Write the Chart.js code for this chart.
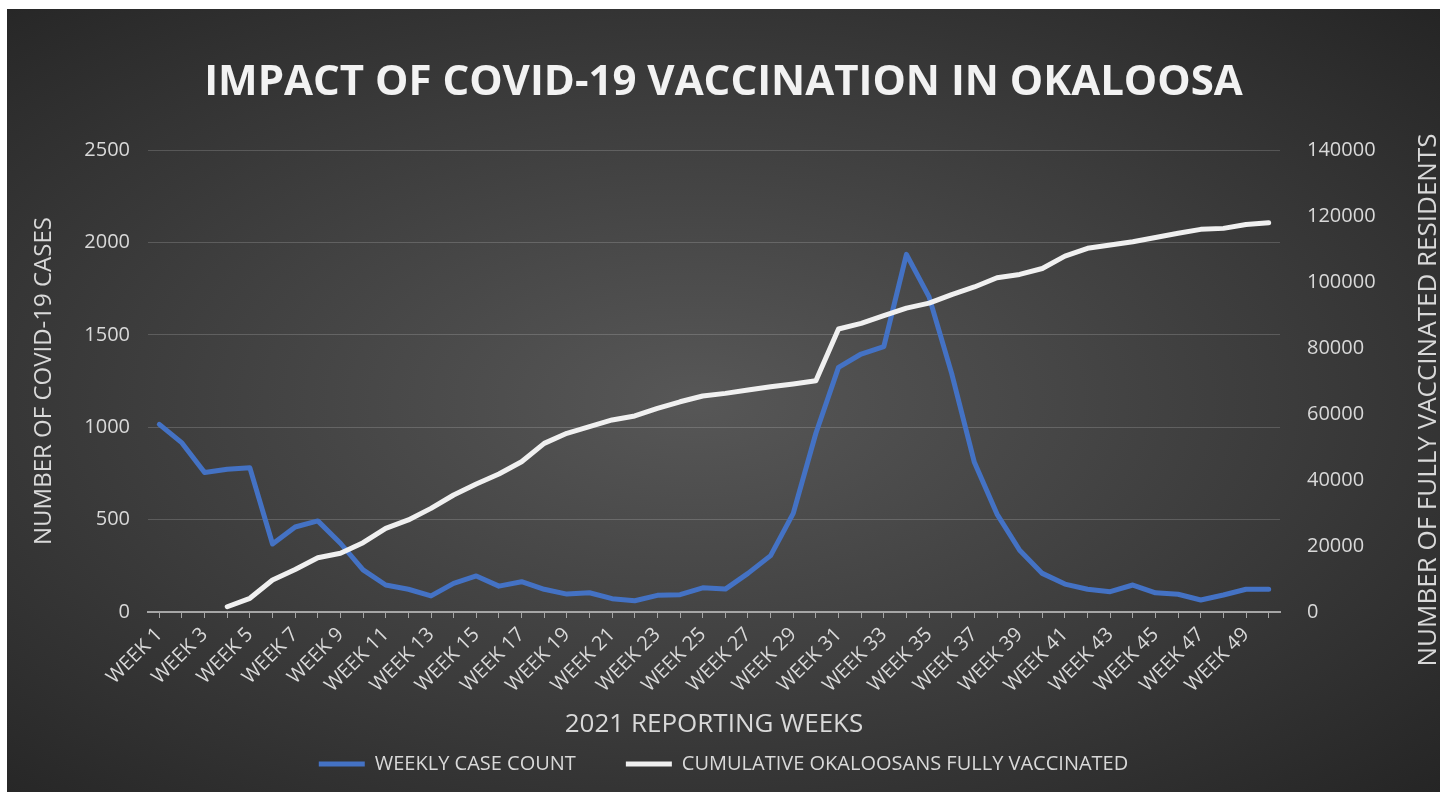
<!DOCTYPE html>
<html>
<head>
<meta charset="utf-8">
<script src="https://cdn.jsdelivr.net/npm/chart.js@4/dist/chart.umd.min.js"></script>
<style>
  html, body { margin: 0; padding: 0; background: #ffffff; }
  #wrap {
    position: absolute; left: 7px; top: 9px; width: 1433px; height: 783px;
    background: radial-gradient(ellipse farthest-corner at 48% 50%, #575757 0%, #3c3c3c 55%, #252525 100%);
  }
</style>
</head>
<body>
<div id="wrap"><canvas id="covid-chart"></canvas></div>
<script>
var weeks = [];
for (var w = 1; w <= 50; w++) { weeks.push("WEEK " + w); }

var weeklyCases = [
    1015, 915, 755, 772, 780, 368, 460, 493, 372, 228,
    146, 123, 87, 155, 195, 140, 164, 123, 97, 104,
    72, 61, 90, 94, 131, 124, 209, 305, 534, 967,
    1324, 1396, 1436, 1935, 1705, 1290, 810, 530, 334, 209,
    151, 123, 110, 146, 104, 96, 65, 92, 123, 123
];

var fullyVaccinated = [
    null, null, null, 1600, 4150, 9700, 12900, 16450, 17800, 21000,
    25350, 27900, 31400, 35450, 38800, 41800, 45550, 51100, 54150, 56150,
    58200, 59400, 61700, 63700, 65450, 66250, 67250, 68250, 69100, 70100,
    85750, 87450, 89800, 92100, 93600, 96200, 98500, 101300, 102300, 104100,
    107850, 110200, 111200, 112200, 113500, 114750, 115950, 116250, 117450, 117950
];

var caseTicks = [0, 500, 1000, 1500, 2000, 2500];
var vaxTicks = [0, 20000, 40000, 60000, 80000, 100000, 120000, 140000];

var labelColor = "#d9d9d9";
var fontName = "'Open Sans', 'Noto Sans', sans-serif";
var rightTitleText = "NUMBER OF FULLY VACCINATED RESIDENTS";

// right axis title reads bottom-to-top like the left one
var rightTitle = {
    id: "rightTitle",
    afterDraw: function(chart) {
        var c = chart.ctx;
        c.save();
        c.translate(chart.width - 11, 391);
        c.rotate(-Math.PI / 2);
        c.font = "26px " + fontName;
        c.fillStyle = labelColor;
        c.textAlign = "center";
        c.textBaseline = "middle";
        c.fillText(rightTitleText, 0, 0);
        c.restore();
    }
};

var ctx = document.getElementById("covid-chart").getContext("2d");

var chart = new Chart(ctx, {
    type: "line",
    data: {
        labels: weeks,
        datasets: [
            {
                label: "WEEKLY CASE COUNT",
                data: weeklyCases,
                yAxisID: "yCases",
                borderColor: "#4472c4",
                backgroundColor: "#4472c4",
                borderWidth: 5,
                pointRadius: 0,
                tension: 0,
                borderJoinStyle: "round",
                borderCapStyle: "round",
                order: 1
            },
            {
                label: "CUMULATIVE OKALOOSANS FULLY VACCINATED",
                data: fullyVaccinated,
                yAxisID: "yVax",
                borderColor: "#f0f0f0",
                backgroundColor: "#f0f0f0",
                borderWidth: 5,
                pointRadius: 0,
                tension: 0,
                borderJoinStyle: "round",
                borderCapStyle: "round",
                order: 0
            }
        ]
    },
    options: {
        responsive: true,
        maintainAspectRatio: false,
        animation: false,
        layout: { padding: { left: 0, right: 0, top: 0, bottom: 8 } },
        plugins: {
            tooltip: { enabled: false },
            title: {
                display: true,
                text: "IMPACT OF COVID-19 VACCINATION IN OKALOOSA",
                color: "#f2f2f2",
                font: { family: fontName, size: 42, weight: "bold" },
                padding: { top: 48.8, bottom: 41.8 }
            },
            legend: {
                position: "bottom",
                labels: {
                    color: labelColor,
                    font: { family: fontName, size: 20 },
                    usePointStyle: true,
                    pointStyle: "line",
                    pointStyleWidth: 46,
                    boxHeight: 20,
                    padding: 50,
                    sort: function(a, b) { return a.datasetIndex - b.datasetIndex; }
                }
            }
        },
        scales: {
            x: {
                offset: true,
                grid: {
                    drawOnChartArea: false,
                    drawTicks: true,
                    tickLength: 6,
                    tickColor: "#a6a6a6",
                    offset: false
                },
                border: { display: true, color: "#a6a6a6", width: 2 },
                ticks: {
                    autoSkip: false,
                    maxRotation: 45,
                    minRotation: 45,
                    padding: 5,
                    color: labelColor,
                    font: { family: fontName, size: 20 },
                    callback: function(value, index) {
                        return index % 2 === 0 ? weeks[index] : "";
                    }
                },
                title: {
                    display: true,
                    text: "2021 REPORTING WEEKS",
                    color: labelColor,
                    font: { family: fontName, size: 26 },
                    padding: { top: 0, bottom: -36.6 }
                },
                afterFit: function(scale) { scale.height = 92; }
            },
            yCases: {
                position: "left",
                min: 0,
                max: 2500,
                afterBuildTicks: function(scale) {
                    scale.ticks = caseTicks.map(function(v) { return { value: v }; });
                },
                grid: { color: "rgba(255,255,255,0.17)", lineWidth: 1, drawTicks: false },
                border: { display: false },
                ticks: {
                    padding: 18,
                    color: labelColor,
                    font: { family: fontName, size: 20 },
                    callback: function(value) { return String(value); }
                },
                title: {
                    display: true,
                    text: "NUMBER OF COVID-19 CASES",
                    color: labelColor,
                    font: { family: fontName, size: 24 },
                    padding: { top: 22.6 }
                },
                afterFit: function(scale) { scale.width = 141; }
            },
            yVax: {
                position: "right",
                min: 0,
                max: 140000,
                afterBuildTicks: function(scale) {
                    scale.ticks = vaxTicks.map(function(v) { return { value: v }; });
                },
                grid: { drawOnChartArea: false, drawTicks: false },
                border: { display: false },
                ticks: {
                    padding: 27,
                    color: labelColor,
                    font: { family: fontName, size: 20 },
                    callback: function(value) { return String(value); }
                },
                title: { display: false },
                afterFit: function(scale) { scale.width = 160; }
            }
        }
    },
    plugins: [rightTitle]
});
</script>
</body>
</html>
